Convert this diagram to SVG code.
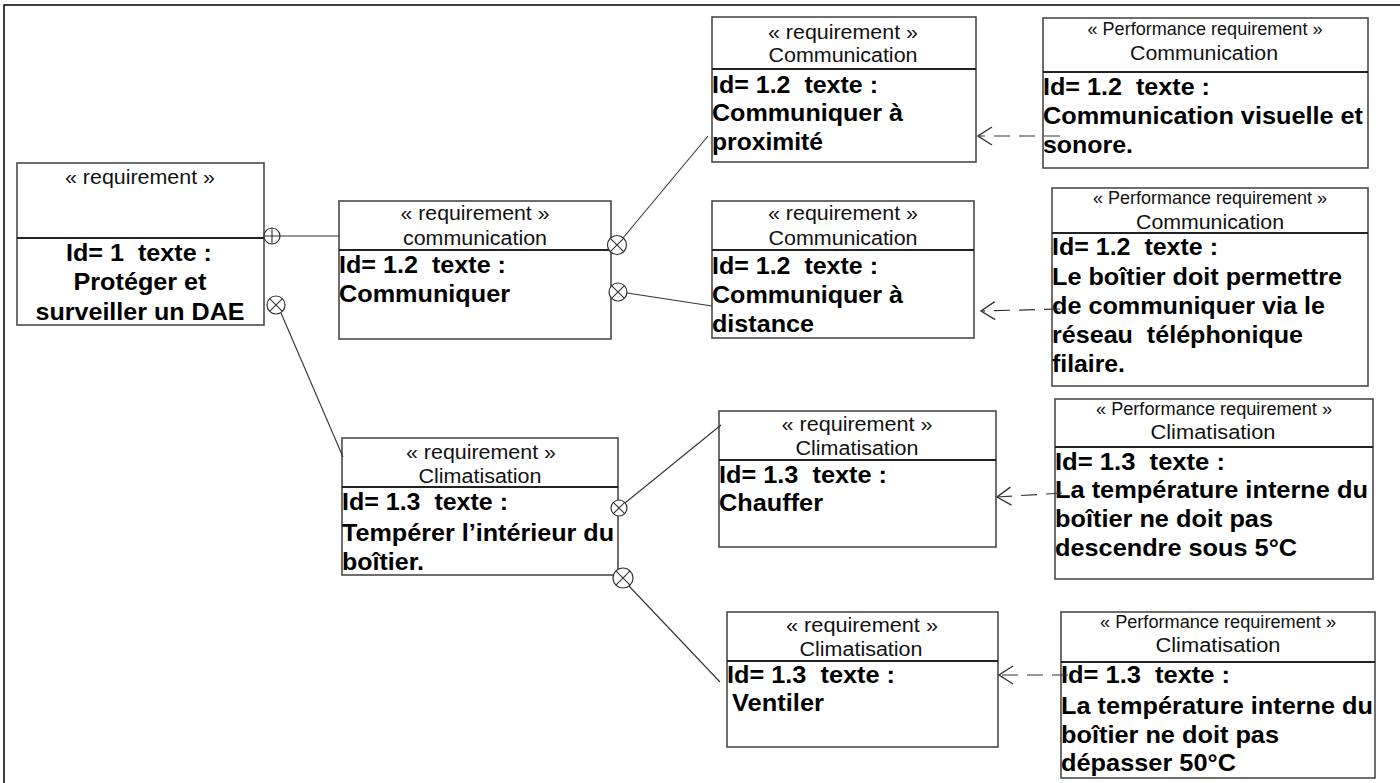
<svg xmlns="http://www.w3.org/2000/svg" width="1400" height="783" viewBox="0 0 1400 783">
<style>
.box{fill:#fff;stroke:#4a4a4a;stroke-width:1.6}
.dv{stroke:#222;stroke-width:2}
.st{font-family:"Liberation Sans",Arial,sans-serif;font-size:20px;fill:#111;text-anchor:middle}
.ps{font-family:"Liberation Sans",Arial,sans-serif;font-size:17.5px;fill:#111;text-anchor:middle}
.b{font-family:"Liberation Sans",Arial,sans-serif;font-size:24px;font-weight:bold;fill:#000;white-space:pre}
.bc{font-family:"Liberation Sans",Arial,sans-serif;font-size:24px;font-weight:bold;fill:#000;text-anchor:middle;white-space:pre}
.ln{stroke:#333;stroke-width:1.1;fill:none}
.ds{stroke:#333;stroke-width:1.2;fill:none;stroke-dasharray:16 9}
.ci{fill:#fff;stroke:#333;stroke-width:1.2}
.fr{stroke:#000;stroke-width:1.5;fill:none}
</style>
<defs>
<marker id="open" viewBox="-17 -11 19 22" refX="0" refY="0" markerWidth="19" markerHeight="22" markerUnits="userSpaceOnUse" orient="auto">
<path d="M-14,-9 L0,0 L-14,9" fill="none" stroke="#333" stroke-width="1.4" stroke-dasharray="none"/>
</marker>
</defs>
<rect width="1400" height="783" fill="#fff"/>
<path class="fr" d="M1400,5 H4 V783"/>

<g id="req-1">
<rect class="box" x="17" y="163" width="247" height="162"/>
<line class="dv" x1="17" y1="238" x2="264" y2="238"/>
<text class="st" x="140" y="184" textLength="150" lengthAdjust="spacingAndGlyphs">« requirement »</text>
<text class="bc" x="139" y="261" textLength="146" lengthAdjust="spacingAndGlyphs">Id= 1  texte :</text>
<text class="bc" x="140" y="290" textLength="133" lengthAdjust="spacingAndGlyphs">Protéger et</text>
<text class="bc" x="140" y="320" textLength="209" lengthAdjust="spacingAndGlyphs">surveiller un DAE</text>
</g>

<g id="req-1-2">
<rect class="box" x="339" y="201" width="272" height="138"/>
<line class="dv" x1="339" y1="250" x2="611" y2="250"/>
<text class="st" x="475" y="220" textLength="149" lengthAdjust="spacingAndGlyphs">« requirement »</text>
<text class="st" x="475" y="245" textLength="144" lengthAdjust="spacingAndGlyphs">communication</text>
<text class="b" x="339" y="273" textLength="167" lengthAdjust="spacingAndGlyphs">Id= 1.2  texte :</text>
<text class="b" x="339" y="302" textLength="171" lengthAdjust="spacingAndGlyphs">Communiquer</text>
</g>

<g id="req-1-3">
<rect class="box" x="342" y="438" width="276" height="137"/>
<line class="dv" x1="342" y1="487" x2="618" y2="487"/>
<text class="st" x="481" y="459" textLength="150" lengthAdjust="spacingAndGlyphs">« requirement »</text>
<text class="st" x="480" y="483" textLength="123" lengthAdjust="spacingAndGlyphs">Climatisation</text>
<text class="b" x="342" y="510" textLength="166" lengthAdjust="spacingAndGlyphs">Id= 1.3  texte :</text>
<text class="b" x="342" y="541" textLength="272" lengthAdjust="spacingAndGlyphs">Tempérer l’intérieur du</text>
<text class="b" x="342" y="570" textLength="82" lengthAdjust="spacingAndGlyphs">boîtier.</text>
</g>

<g id="req-proximite">
<rect class="box" x="712" y="17" width="264" height="145"/>
<line class="dv" x1="712" y1="69" x2="976" y2="69"/>
<text class="st" x="843" y="39" textLength="150" lengthAdjust="spacingAndGlyphs">« requirement »</text>
<text class="st" x="843" y="62" textLength="149" lengthAdjust="spacingAndGlyphs">Communication</text>
<text class="b" x="712" y="93" textLength="166" lengthAdjust="spacingAndGlyphs">Id= 1.2  texte :</text>
<text class="b" x="712" y="121" textLength="191" lengthAdjust="spacingAndGlyphs">Communiquer à</text>
<text class="b" x="712" y="150" textLength="111" lengthAdjust="spacingAndGlyphs">proximité</text>
</g>

<g id="req-distance">
<rect class="box" x="712" y="201" width="262" height="137"/>
<line class="dv" x1="712" y1="250" x2="974" y2="250"/>
<text class="st" x="843" y="220" textLength="150" lengthAdjust="spacingAndGlyphs">« requirement »</text>
<text class="st" x="843" y="245" textLength="149" lengthAdjust="spacingAndGlyphs">Communication</text>
<text class="b" x="712" y="274" textLength="166" lengthAdjust="spacingAndGlyphs">Id= 1.2  texte :</text>
<text class="b" x="712" y="303" textLength="191" lengthAdjust="spacingAndGlyphs">Communiquer à</text>
<text class="b" x="712" y="332" textLength="102" lengthAdjust="spacingAndGlyphs">distance</text>
</g>

<g id="req-chauffer">
<rect class="box" x="719" y="411" width="277" height="136"/>
<line class="dv" x1="719" y1="460" x2="996" y2="460"/>
<text class="st" x="857" y="431" textLength="151" lengthAdjust="spacingAndGlyphs">« requirement »</text>
<text class="st" x="857" y="455" textLength="123" lengthAdjust="spacingAndGlyphs">Climatisation</text>
<text class="b" x="719" y="483" textLength="168" lengthAdjust="spacingAndGlyphs">Id= 1.3  texte :</text>
<text class="b" x="719" y="511" textLength="104" lengthAdjust="spacingAndGlyphs">Chauffer</text>
</g>

<g id="req-ventiler">
<rect class="box" x="727" y="612" width="271" height="135"/>
<line class="dv" x1="727" y1="661" x2="998" y2="661"/>
<text class="st" x="862" y="632" textLength="152" lengthAdjust="spacingAndGlyphs">« requirement »</text>
<text class="st" x="861" y="656" textLength="123" lengthAdjust="spacingAndGlyphs">Climatisation</text>
<text class="b" x="727" y="683" textLength="168" lengthAdjust="spacingAndGlyphs">Id= 1.3  texte :</text>
<text class="b" x="732" y="711" textLength="92" lengthAdjust="spacingAndGlyphs">Ventiler</text>
</g>

<g id="perf-proximite">
<rect class="box" x="1043" y="18" width="325" height="150"/>
<line class="dv" x1="1043" y1="72" x2="1368" y2="72"/>
<text class="ps" x="1205" y="35" textLength="235" lengthAdjust="spacingAndGlyphs">« Performance requirement »</text>
<text class="st" x="1204" y="60" textLength="148" lengthAdjust="spacingAndGlyphs">Communication</text>
<text class="b" x="1043" y="95" textLength="167" lengthAdjust="spacingAndGlyphs">Id= 1.2  texte :</text>
<text class="b" x="1043" y="124" textLength="320" lengthAdjust="spacingAndGlyphs">Communication visuelle et</text>
<text class="b" x="1043" y="153" textLength="90" lengthAdjust="spacingAndGlyphs">sonore.</text>
</g>

<g id="perf-distance">
<rect class="box" x="1052" y="188" width="316" height="198"/>
<line class="dv" x1="1052" y1="233" x2="1368" y2="233"/>
<text class="ps" x="1210" y="204" textLength="234" lengthAdjust="spacingAndGlyphs">« Performance requirement »</text>
<text class="st" x="1210" y="229" textLength="148" lengthAdjust="spacingAndGlyphs">Communication</text>
<text class="b" x="1052" y="255" textLength="166" lengthAdjust="spacingAndGlyphs">Id= 1.2  texte :</text>
<text class="b" x="1052" y="285" textLength="290" lengthAdjust="spacingAndGlyphs">Le boîtier doit permettre</text>
<text class="b" x="1052" y="314" textLength="273" lengthAdjust="spacingAndGlyphs">de communiquer via le</text>
<text class="b" x="1052" y="343" textLength="251" lengthAdjust="spacingAndGlyphs">réseau  téléphonique</text>
<text class="b" x="1052" y="372" textLength="73" lengthAdjust="spacingAndGlyphs">filaire.</text>
</g>

<g id="perf-chauffer">
<rect class="box" x="1055" y="399" width="318" height="180"/>
<line class="dv" x1="1055" y1="447" x2="1373" y2="447"/>
<text class="ps" x="1214" y="415" textLength="236" lengthAdjust="spacingAndGlyphs">« Performance requirement »</text>
<text class="st" x="1213" y="439" textLength="125" lengthAdjust="spacingAndGlyphs">Climatisation</text>
<text class="b" x="1055" y="470" textLength="170" lengthAdjust="spacingAndGlyphs">Id= 1.3  texte :</text>
<text class="b" x="1055" y="498" textLength="313" lengthAdjust="spacingAndGlyphs">La température interne du</text>
<text class="b" x="1055" y="527" textLength="218" lengthAdjust="spacingAndGlyphs">boîtier ne doit pas</text>
<text class="b" x="1055" y="556" textLength="242" lengthAdjust="spacingAndGlyphs">descendre sous 5°C</text>
</g>

<g id="perf-ventiler">
<rect class="box" x="1061" y="612" width="314" height="166"/>
<line class="dv" x1="1061" y1="662" x2="1375" y2="662"/>
<text class="ps" x="1218" y="628" textLength="236" lengthAdjust="spacingAndGlyphs">« Performance requirement »</text>
<text class="st" x="1218" y="652" textLength="125" lengthAdjust="spacingAndGlyphs">Climatisation</text>
<text class="b" x="1061" y="683" textLength="169" lengthAdjust="spacingAndGlyphs">Id= 1.3  texte :</text>
<text class="b" x="1061" y="714" textLength="312" lengthAdjust="spacingAndGlyphs">La température interne du</text>
<text class="b" x="1061" y="743" textLength="218" lengthAdjust="spacingAndGlyphs">boîtier ne doit pas</text>
<text class="b" x="1061" y="771" textLength="175" lengthAdjust="spacingAndGlyphs">dépasser 50°C</text>
</g>

<g id="connectors">
<line class="ln" x1="280" y1="236" x2="339" y2="236"/>
<line class="ln" x1="281" y1="313" x2="343" y2="457"/>
<line class="ln" x1="623" y1="238" x2="708" y2="136"/>
<line class="ln" x1="627" y1="293" x2="712" y2="306"/>
<line class="ln" x1="625" y1="503" x2="721" y2="425"/>
<line class="ln" x1="629" y1="586" x2="720" y2="682"/>

<circle class="ci" cx="272" cy="236" r="8"/>
<path class="ln" d="M272,228 V244 M264,236 H280"/>
<circle class="ci" cx="276" cy="305" r="9"/>
<path class="ln" d="M269.6,298.6 L282.4,311.4 M282.4,298.6 L269.6,311.4"/>
<circle class="ci" cx="617" cy="245" r="9.5"/>
<path class="ln" d="M610.3,238.3 L623.7,251.7 M623.7,238.3 L610.3,251.7"/>
<circle class="ci" cx="618" cy="292" r="9"/>
<path class="ln" d="M611.6,285.6 L624.4,298.4 M624.4,285.6 L611.6,298.4"/>
<circle class="ci" cx="619" cy="508" r="8"/>
<path class="ln" d="M613.3,502.3 L624.7,513.7 M624.7,502.3 L613.3,513.7"/>
<circle class="ci" cx="623" cy="578" r="10"/>
<path class="ln" d="M615.9,570.9 L630.1,585.1 M630.1,570.9 L615.9,585.1"/>

<line class="ds" x1="1060" y1="136" x2="978" y2="136" marker-end="url(#open)"/>
<line class="ds" x1="1060" y1="309" x2="981" y2="311" marker-end="url(#open)"/>
<line class="ds" x1="1062" y1="493" x2="997" y2="497" marker-end="url(#open)"/>
<line class="ds" x1="1068" y1="675" x2="999" y2="675" marker-end="url(#open)"/>
</g>
</svg>
